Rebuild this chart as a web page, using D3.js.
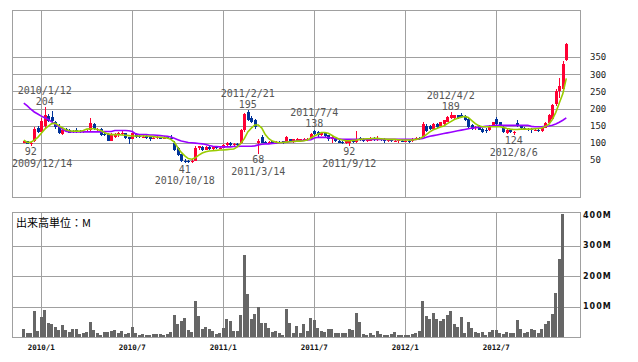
<!DOCTYPE html>
<html>
<head>
<meta charset="utf-8">
<script src="https://cdn.jsdelivr.net/npm/d3@7"></script>
<style>
  body { margin: 0; background: #fff; }
</style>
</head>
<body>
<div id="chart"></div>
<script>
// weekly candles, first week 2009/11/30
const open  = [100,104,96,104,142,132,148,178,176,160,150,127,140,136,134,138,134,131,133,136,154,138,140,126,125,106,118,124,125,128,116,112,126,120,116,120,116,114,114,116,112,117,114,98,84,66,48,46,44,48,84,88,80,88,82,88,84,86,94,100,95,96,98,138,190,172,166,100,118,102,98,104,100,102,104,100,110,102,104,106,108,110,112,134,132,122,128,122,110,114,106,102,98,100,106,102,114,112,104,106,114,108,112,112,104,108,104,104,106,104,106,104,110,114,118,150,150,140,156,148,154,162,172,172,180,180,178,170,152,142,150,140,138,138,148,170,160,146,130,136,128,158,150,144,140,140,136,138,134,144,158,170,212,252,256,342];
const high  = [106,105,101,146,150,172,204,184,194,165,155,142,143,140,138,142,138,137,138,172,158,142,143,130,128,128,130,132,138,130,118,130,128,122,122,122,118,118,120,118,120,120,122,104,88,68,54,50,52,92,92,90,90,90,90,90,88,96,102,102,98,98,140,188,195,178,170,110,122,106,106,106,104,104,106,120,112,112,114,112,114,114,128,138,134,132,130,124,124,116,108,106,106,108,108,134,116,114,110,116,116,120,114,114,110,110,110,110,108,108,108,114,116,118,160,154,152,158,158,162,168,178,189,182,182,186,180,176,156,150,152,142,142,152,162,174,162,150,140,138,134,167,152,146,142,142,140,140,146,162,184,214,256,288,338,392];
const low   = [99,96,92,102,128,130,140,160,160,140,125,124,132,128,130,130,130,130,131,134,138,133,120,120,104,104,114,118,122,112,97,110,114,115,114,112,104,110,112,110,110,112,112,76,62,44,41,42,42,46,80,76,78,80,80,82,82,84,92,92,92,90,96,132,165,158,140,68,98,96,96,96,96,98,96,98,102,100,102,104,106,104,110,124,118,120,118,106,100,102,98,96,96,92,100,100,106,102,102,104,106,106,106,98,102,102,102,100,102,102,100,102,108,108,116,132,138,138,144,146,152,160,170,170,170,172,164,140,138,138,136,130,128,134,146,152,146,128,126,130,124,146,140,136,134,128,134,132,132,142,155,168,208,232,250,338];
const close = [104,97,99,140,132,165,182,165,163,145,128,136,134,130,132,132,133,135,135,157,140,140,124,122,106,124,126,128,128,114,110,128,117,116,118,114,112,115,117,112,118,114,113,78,64,46,44,44,48,85,90,80,88,82,88,84,86,94,100,95,96,94,138,184,168,162,145,106,100,98,103,98,102,100,98,118,104,110,112,110,112,112,126,127,122,130,121,110,116,104,100,99,104,105,102,112,108,104,108,114,108,112,110,104,107,104,106,108,104,106,104,110,114,110,155,134,140,155,146,160,166,176,180,180,172,176,166,145,140,146,138,133,135,150,160,156,148,132,138,132,132,148,142,138,136,136,138,134,144,159,180,210,252,266,330,390];
// volume, millions of shares (no bar shown for the last week)
const volume = [26,13,13,85,20,66,89,46,43,33,23,39,23,16,26,26,11,14,16,49,23,13,7,16,16,20,23,13,20,10,13,33,13,7,10,7,7,10,10,10,7,10,16,72,43,52,62,23,16,118,69,26,33,26,20,10,13,30,59,52,20,20,72,269,141,59,75,98,46,46,30,16,20,13,7,92,46,13,36,13,43,20,62,56,30,20,16,26,26,13,13,13,13,26,23,79,49,10,7,13,7,20,10,7,7,10,16,7,7,7,7,10,13,20,118,69,59,79,59,52,59,72,85,43,33,66,13,49,30,16,13,16,7,16,23,23,13,10,16,13,13,56,26,13,16,26,23,13,26,43,52,75,144,256,403];
// moving averages as drawn
const ma13 = [108,101,102,108,116,128,140,149,156,157,150,144,138,135,134,134,134,136,140,141,141,139,136,130,126,124,124,124,123,122,121,120,120,120,120,120,119,118,117,116,115,114,110,102,86,72,62,54,52,56,64,70,74,76,77,78,79,79,80,81,82,88,98,112,132,143,152,152,143,124,112,105,102,100,101,102,103,104,105,105,106,108,114,120,125,130,130,128,122,116,111,108,106,106,107,108,110,111,112,112,113,113,112,111,110,110,110,109,108,108,108,108,110,112,117,124,132,138,142,146,149,156,162,168,172,175,177,174,165,156,150,147,147,147,147,147,147,145,142,140,139,139,140,140,140,140,141,142,143,148,154,168,189,216,243,288];
const ma26 = [216,208,198,190,184,178,173,168,161,154,147,140,134,132,132,132,132,132,132,132,132,132,132,133,133,133,136,136,136,136,135,133,126,124,124,124,123,123,122,121,120,119,117,113,109,105,103,101,100,99,98,97,95,92,90,89,88,88,88,88,89,89,90,90,90,90,91,94,96,97,97,98,99,100,101,102,103,104,105,106,107,108,109,114,116,116,116,115,114,112,111,110,110,110,110,110,110,110,110,110,110,110,110,110,110,110,110,110,110,110,110,110,110,111,113,116,119,121,123,125,127,129,131,133,135,137,139,141,143,144,145,147,148,149,150,151,151,151,151,151,151,151,151,151,151,148,147,147,147,148,149,151,155,160,166,173];

const tickLabels = ["2010/1", "2010/7", "2011/1", "2011/7", "2012/1", "2012/7"];
const priceTicks = [50, 100, 150, 200, 250, 300, 350];
const volumeTicks = [100, 200, 300, 400];

const noteDates  = ["2009/12/14", "2010/1/12", "2010/10/18", "2011/2/21", "2011/3/14", "2011/7/4", "2011/9/12", "2012/4/2", "2012/8/6"];
const noteValues = [92, 204, 41, 195, 68, 138, 92, 189, 124];
const noteKinds  = ["low", "high", "low", "high", "low", "high", "low", "high", "low"];

const width = 638, height = 362;
const left = 12, right = 580;
const priceTop = 10, priceBottom = 197;
const volTop = 212, volBottom = 337;

const svg = d3.select("#chart")
  .append("svg")
    .attr("width", width)
    .attr("height", height)
    .style("font-family", "'DejaVu Sans Mono', monospace");

// 156 weekly bars, 2009/11/30 .. 2012/11/19
const weeks = d3.timeMonday.range(new Date(2009, 10, 30), new Date(2012, 10, 20));

const x = d3.scaleTime()
  .domain([weeks[0], weeks[weeks.length - 1]])
  .range([23.8, 566.3]);

const y = d3.scaleLinear()
  .domain([-58.3, 487.9])
  .range([priceBottom, priceTop]);

const yVol = d3.scaleLinear()
  .domain([0, 410])
  .range([volBottom, volTop]);

const parse = d3.timeParse("%Y/%m/%d");
const tickDates = tickLabels.map(t => d3.timeMonday.ceil(d3.timeParse("%Y/%m")(t)));

const gridColor = "#a0a0a0";

// grid lines
const grid = svg.append("g")
  .attr("stroke", gridColor)
  .attr("shape-rendering", "crispEdges");

grid.selectAll(".hp")
  .data(priceTicks)
  .enter().append("line")
    .attr("x1", left).attr("x2", right)
    .attr("y1", d => Math.round(y(d)) + 0.5)
    .attr("y2", d => Math.round(y(d)) + 0.5);

grid.selectAll(".hv")
  .data(volumeTicks.slice(0, 3))
  .enter().append("line")
    .attr("x1", left).attr("x2", right)
    .attr("y1", d => Math.round(yVol(d)) + 0.5)
    .attr("y2", d => Math.round(yVol(d)) + 0.5);

[[priceTop, priceBottom], [volTop, volBottom]].forEach(([t, b]) => {
  grid.selectAll(null)
    .data(tickDates)
    .enter().append("line")
      .attr("x1", d => Math.round(x(d)) + 0.5)
      .attr("x2", d => Math.round(x(d)) + 0.5)
      .attr("y1", t).attr("y2", b);
  grid.append("rect")
    .attr("x", left + 0.5).attr("y", t + 0.5)
    .attr("width", right - left).attr("height", b - t)
    .attr("fill", "none");
});

// volume bars
svg.append("g")
  .attr("shape-rendering", "crispEdges")
  .selectAll("rect")
  .data(volume)
  .enter().append("rect")
    .attr("x", (d, i) => Math.round(x(weeks[i]) - 1.5))
    .attr("width", 3)
    .attr("y", d => yVol(d))
    .attr("height", d => volBottom - yVol(d))
    .attr("fill", "#666666");

// candles
const up = "#ff0033", down = "#003399";
const candle = svg.append("g")
  .attr("shape-rendering", "crispEdges")
  .selectAll("g")
  .data(weeks)
  .enter().append("g")
    .attr("fill", (d, i) => close[i] >= open[i] ? up : down)
    .attr("stroke", (d, i) => close[i] >= open[i] ? up : down);

candle.append("line")
  .attr("x1", d => Math.round(x(d)) + 0.5)
  .attr("x2", d => Math.round(x(d)) + 0.5)
  .attr("y1", (d, i) => y(high[i]))
  .attr("y2", (d, i) => y(low[i]));

candle.append("rect")
  .attr("stroke", "none")
  .attr("x", d => Math.round(x(d)) - 1)
  .attr("width", 3)
  .attr("y", (d, i) => y(Math.max(open[i], close[i])))
  .attr("height", (d, i) => Math.max(1, Math.abs(y(open[i]) - y(close[i]))));

// moving averages
const line = arr => d3.line()
  .x((d, i) => x(weeks[i]))
  .y(d => y(d))(arr);

svg.append("path")
  .attr("d", line(ma26))
  .attr("fill", "none")
  .attr("stroke", "#9900ff")
  .attr("stroke-width", 1.6);

svg.append("path")
  .attr("d", line(ma13))
  .attr("fill", "none")
  .attr("stroke", "#99cc00")
  .attr("stroke-width", 1.6);

// high / low notes, kept inside the frame
const notes = svg.append("g")
  .attr("fill", "#555")
  .attr("font-size", "10px")
  .attr("text-anchor", "middle");

const keepInside = (t, cx) => {
  const w = t.node().getComputedTextLength();
  const c = Math.max(left + w / 2, Math.min(right - w / 2, cx));
  t.attr("x", c);
};

noteDates.forEach((nd, k) => {
  const cx = x(d3.timeMonday.floor(parse(nd)));
  const cy = y(noteValues[k]);
  const isHigh = noteKinds[k] === "high";
  const v = notes.append("text")
    .attr("y", isHigh ? cy - 6 : cy + 6)
    .attr("dy", "0.36em")
    .text(noteValues[k]);
  keepInside(v, cx);
  const t = notes.append("text")
    .attr("y", isHigh ? cy - 17 : cy + 17.5)
    .attr("dy", "0.36em")
    .text(nd);
  keepInside(t, cx);
});

// price axis labels
svg.append("g")
  .attr("fill", "#222")
  .attr("font-size", "9px")
  .selectAll("text")
  .data(priceTicks)
  .enter().append("text")
    .attr("x", 590)
    .attr("y", d => y(d))
    .attr("dy", "0.36em")
    .text(d => d);

// volume axis labels
svg.append("g")
  .attr("fill", "#111")
  .attr("font-size", "8px")
  .attr("font-weight", "bold")
  .attr("letter-spacing", "1px")
  .style("font-family", "'DejaVu Sans', sans-serif")
  .selectAll("text")
  .data(volumeTicks)
  .enter().append("text")
    .attr("x", 583)
    .attr("y", d => yVol(d))
    .attr("dy", "0.36em")
    .text(d => d + "M");

// time labels
svg.append("g")
  .attr("fill", "#111")
  .attr("font-size", "7.5px")
  .attr("font-weight", "bold")
  .attr("text-anchor", "middle")
  .selectAll("text")
  .data(tickDates)
  .enter().append("text")
    .attr("x", d => x(d))
    .attr("y", 347)
    .attr("dy", "0.36em")
    .text((d, i) => tickLabels[i]);

svg.append("text")
  .attr("x", 16)
  .attr("y", 227)
  .attr("font-size", "11px")
  .attr("fill", "#000")
  .style("font-family", "'Noto Sans CJK JP', sans-serif")
  .text("出来高単位：M");
</script>
</body>
</html>
